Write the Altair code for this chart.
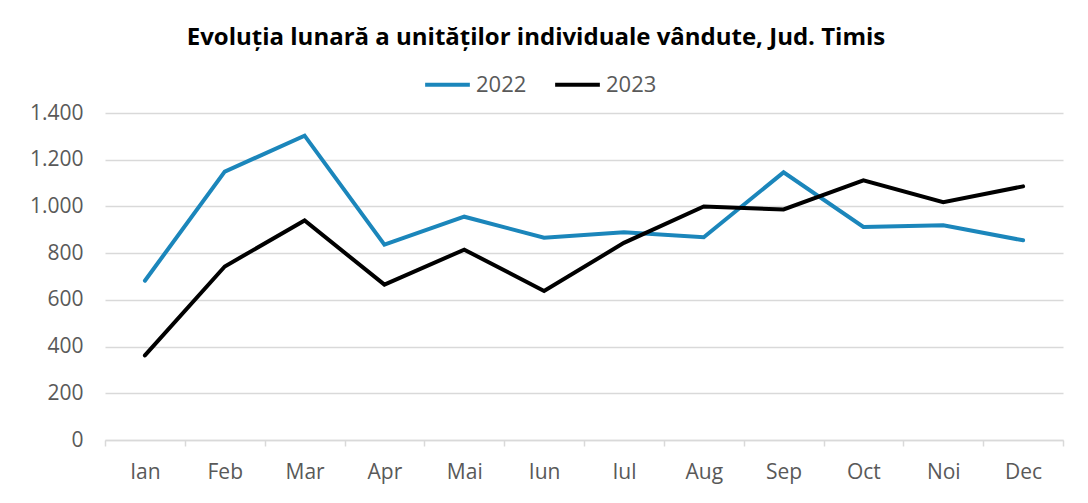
import altair as alt
import pandas as pd

months = ["Ian", "Feb", "Mar", "Apr", "Mai", "Iun", "Iul", "Aug", "Sep", "Oct", "Noi", "Dec"]
v2022 = [682, 1149, 1303, 836, 956, 866, 889, 868, 1146, 912, 919, 855]
v2023 = [362, 743, 940, 665, 815, 638, 844, 1000, 987, 1112, 1018, 1086]
series = ["2022", "2023"]
colors = ["#1b86bb", "#000000"]
title_text = "Evoluția lunară a unităților individuale vândute, Jud. Timis"

rows = []
for m, a, b in zip(months, v2022, v2023):
    rows.append({"luna": m, "an": series[0], "valoare": a})
    rows.append({"luna": m, "an": series[1], "valoare": b})
df = pd.DataFrame(rows)

FONT = "Open Sans"
LABEL_COLOR = "#595959"

chart = (
    alt.Chart(df)
    .mark_line(strokeWidth=4, strokeJoin="miter", strokeCap="round")
    .encode(
        x=alt.X(
            "luna:N",
            sort=months,
            scale=alt.Scale(type="band", paddingInner=0, paddingOuter=0),
            axis=alt.Axis(
                title=None,
                labelAngle=0,
                labelFont=FONT,
                labelFontSize=21,
                labelColor=LABEL_COLOR,
                labelPadding=15,
                tickBand="extent",
                ticks=True,
                tickSize=6,
                tickColor="#d9d9d9",
                tickWidth=1.5,
                domainColor="#d9d9d9",
                domainWidth=1.5,
                grid=False,
            ),
        ),
        y=alt.Y(
            "valoare:Q",
            scale=alt.Scale(domain=[0, 1400], nice=False),
            axis=alt.Axis(
                title=None,
                values=[0, 200, 400, 600, 800, 1000, 1200, 1400],
                labelExpr="replace(format(datum.value, ','), ',', '.')",
                labelFont=FONT,
                labelFontSize=21,
                labelColor=LABEL_COLOR,
                labelPadding=22,
                ticks=False,
                domain=False,
                grid=True,
                gridColor="#d9d9d9",
                gridWidth=1.5,
            ),
        ),
        color=alt.Color(
            "an:N",
            scale=alt.Scale(domain=series, range=colors),
            legend=alt.Legend(
                title=None,
                orient="none",
                direction="horizontal",
                legendX=318,
                legendY=-53,
                symbolType="stroke",
                symbolSize=2000,
                symbolStrokeWidth=4,
                labelFont=FONT,
                labelFontSize=22,
                labelColor=LABEL_COLOR,
                labelOffset=4,
                columnPadding=20,
            ),
        ),
    )
    .properties(
        width=958,
        height=327,
        padding={"left": 97, "top": 105, "right": 10, "bottom": 60},
        autosize=alt.AutoSizeParams(type="none"),
        title=alt.TitleParams(
            text=title_text,
            anchor="middle",
            frame="group",
            dx=-48,
            offset=10,
            font=FONT,
            fontSize=24,
            fontWeight="bold",
            color="#000000",
        ),
    )
    .configure_view(stroke=None)
)

chart.save("out.html", embed_options={"renderer": "svg", "actions": False})
